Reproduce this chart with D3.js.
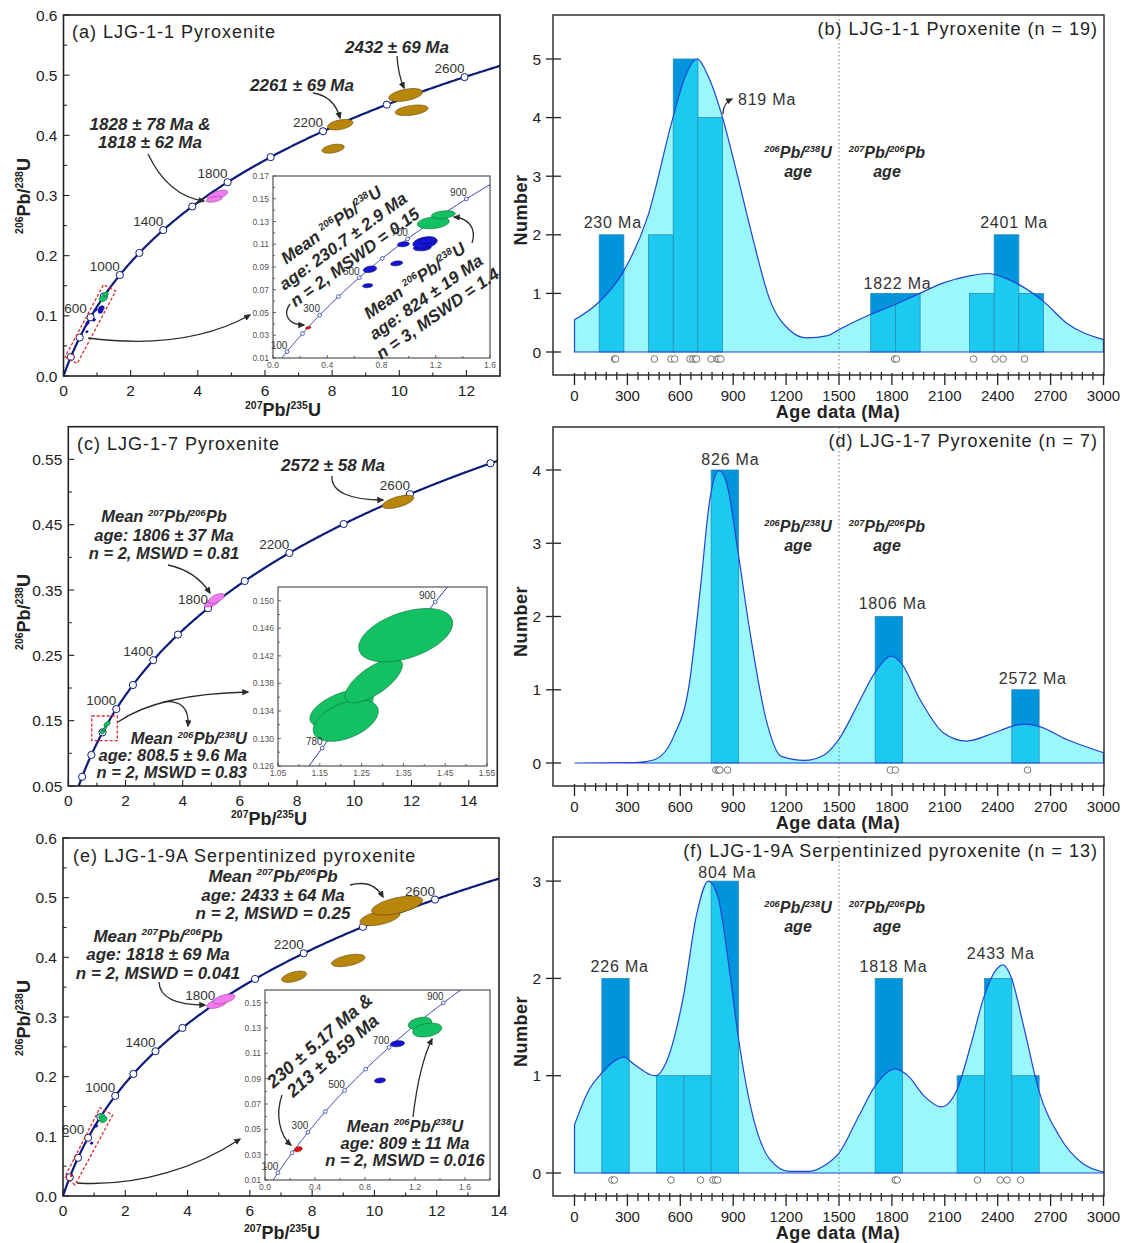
<!DOCTYPE html>
<html>
<head>
<meta charset="utf-8">
<script src="https://cdn.jsdelivr.net/npm/d3@7"></script>
<style>
  html, body { margin: 0; padding: 0; background: #fff; }
  svg text { font-family: "Liberation Sans", Arial, Helvetica, sans-serif; }
</style>
</head>
<body>
<svg id="fig" width="1123" height="1243"></svg>
<script>
// ---------------- Concordia (decay constants, 1/yr) ----------------
const LAMBDA_238 = 1.55125e-10;
const LAMBDA_235 = 9.8485e-10;
const concordiaMarkerAges = [200, 400, 600, 800, 1000, 1200, 1400, 1600, 1800, 2000, 2200, 2400, 2600, 2800];
const concordiaLabelAges = [600, 1000, 1400, 1800, 2200, 2600];
const concordiaLabelAgesC = [1000, 1400, 1800, 2200, 2600];
const insetMarkerAges = [100, 200, 300, 400, 500, 600, 700, 800, 900];
const insetLabelAges = [100, 300, 500, 700, 900];
const insetMarkerAgesC = [780, 900];

// ---------------- Axis ticks ----------------
const aXTicks = [0, 2, 4, 6, 8, 10, 12];
const aYTicks = [0, 0.1, 0.2, 0.3, 0.4, 0.5, 0.6];
const cXTicks = [0, 2, 4, 6, 8, 10, 12, 14];
const cYTicks = [0.05, 0.15, 0.25, 0.35, 0.45, 0.55];
const eXTicks = [0, 2, 4, 6, 8, 10, 12, 14];
const eYTicks = [0, 0.1, 0.2, 0.3, 0.4, 0.5, 0.6];
const insetAXTicks = [0, 0.4, 0.8, 1.2, 1.6];
const insetAYTicks = [0.01, 0.03, 0.05, 0.07, 0.09, 0.11, 0.13, 0.15, 0.17];
const insetCXTicks = [1.05, 1.15, 1.25, 1.35, 1.45, 1.55];
const insetCYTicks = [0.126, 0.130, 0.134, 0.138, 0.142, 0.146, 0.150];
const insetEXTicks = [0, 0.4, 0.8, 1.2, 1.6];
const insetEYTicks = [0.01, 0.03, 0.05, 0.07, 0.09, 0.11, 0.13, 0.15];
const histXTicks = [0, 300, 600, 900, 1200, 1500, 1800, 2100, 2400, 2700, 3000];

// ---------------- Error ellipses: [207Pb/235U, 206Pb/238U, sx, sy, rho] ----------------
const aBrown = [[10.19, 0.467, 0.506, 0.0108, 0.45], [10.37, 0.4416, 0.49, 0.0088, 0.4],
                [8.24, 0.4177, 0.38, 0.0088, 0.4], [8.03, 0.3778, 0.333, 0.0075, 0.4]];
const aPink = [[4.59, 0.3008, 0.30, 0.0083, 0.6], [4.49, 0.2937, 0.24, 0.005, 0.5]];
const aRed = [[0.26, 0.0366, 0.02, 0.0011, 0.3]];
const aBlue = [[0.715, 0.088, 0.049, 0.0029, 0.3], [0.698, 0.0736, 0.037, 0.0018, 0.2],
               [0.912, 0.0932, 0.044, 0.0022, 0.3], [0.961, 0.110, 0.044, 0.0022, 0.2],
               [1.10, 0.107, 0.066, 0.0028, 0.2], [1.121, 0.1115, 0.09, 0.005, 0.3],
               [1.14, 0.1135, 0.06, 0.003, 0.3]];
const aGreen = [[1.182, 0.1289, 0.118, 0.0053, 0.25], [1.256, 0.136, 0.088, 0.0035, 0.3]];

const cBrown = [[11.53, 0.485, 0.55, 0.0102, 0.6]];
const cPink = [[5.0, 0.330, 0.245, 0.006, 0.5], [5.18, 0.337, 0.28, 0.0076, 0.6]];
const cGreen = [[1.202, 0.1344, 0.0758, 0.00271, 0.55], [1.212, 0.1326, 0.0778, 0.00302, 0.45],
                [1.279, 0.1384, 0.0686, 0.00322, 0.7], [1.3555, 0.1450, 0.1124, 0.00388, 0.45]];

const eBrown = [[10.18, 0.4662, 0.642, 0.0131, 0.5], [10.73, 0.4868, 0.819, 0.0159, 0.55],
                [9.16, 0.3947, 0.536, 0.0104, 0.5], [7.42, 0.3675, 0.40, 0.0095, 0.5]];
const ePink = [[4.93, 0.3218, 0.32, 0.0075, 0.5], [5.17, 0.330, 0.353, 0.0084, 0.55]];
const eRed = [[0.266, 0.0343, 0.032, 0.002, 0.3]];
const eBlue = [[1.06, 0.1176, 0.056, 0.0024, 0.2], [0.92, 0.0886, 0.044, 0.002, 0.2]];
const eGreen = [[1.24, 0.1336, 0.094, 0.0049, 0.3], [1.298, 0.1284, 0.116, 0.0055, 0.3]];

// ---------------- Histogram / KDE data (ages in Ma) ----------------
const bAges = [227, 233, 453, 547, 568, 655, 671, 685, 693, 774, 809, 818, 830, 1815, 1826, 2263, 2385, 2431, 2552];
const bKde = [[0, 0.55], [135, 0.84], [273, 1.35], [415, 2.31], [555, 3.96], [628, 4.7], [695, 5.0], [759, 4.7],
              [835, 4.05], [912, 3.16], [999, 2.09], [1108, 0.89], [1218, 0.38], [1316, 0.24], [1437, 0.28],
              [1498, 0.38], [1677, 0.64], [1819, 0.81], [1957, 1.0], [2093, 1.18], [2241, 1.30], [2344, 1.34],
              [2443, 1.26], [2521, 1.15], [2661, 0.86], [2792, 0.49], [3000, 0.21]];
const dAges = [802, 815, 824, 868, 1791, 1819, 2569];
const dKde = [[0, 0], [300, 0.004], [365, 0.01], [453, 0.045], [562, 0.36], [649, 1.05], [715, 2.41], [767, 3.59],
              [820, 3.99], [868, 3.77], [923, 2.95], [999, 1.73], [1087, 0.59], [1174, 0.09], [1305, 0.036],
              [1415, 0.11], [1498, 0.32], [1611, 0.82], [1703, 1.23], [1797, 1.46], [1854, 1.36], [1961, 0.86],
              [2093, 0.41], [2224, 0.30], [2377, 0.41], [2480, 0.50], [2552, 0.53], [2633, 0.50], [2792, 0.32],
              [3000, 0.14]];
const fAges = [212, 226, 547, 715, 785, 800, 812, 1819, 1830, 2285, 2414, 2453, 2530];
const fKde = [[0, 0.495], [81, 0.85], [151, 1.02], [234, 1.16], [278, 1.19], [343, 1.11], [431, 1.01], [463, 1.0],
              [518, 1.13], [617, 1.81], [693, 2.66], [759, 3.0], [813, 2.84], [879, 2.08], [923, 1.47], [999, 0.68],
              [1108, 0.14], [1218, 0.017], [1327, 0.017], [1437, 0.10], [1498, 0.2], [1611, 0.58], [1703, 0.89],
              [1819, 1.07], [1896, 0.99], [1983, 0.79], [2081, 0.68], [2168, 0.85], [2245, 1.30], [2322, 1.81],
              [2387, 2.08], [2431, 2.14], [2475, 2.02], [2552, 1.47], [2633, 0.85], [2749, 0.38], [2880, 0.10],
              [3000, 0.01]];

// ---------------- helpers ----------------
const svg = d3.select('#fig');
const defs = svg.append('defs');
defs.append('marker').attr('id', 'arr').attr('viewBox', '0 0 10 10').attr('refX', 8).attr('refY', 5)
  .attr('markerWidth', 5.5).attr('markerHeight', 5.5).attr('orient', 'auto')
  .append('path').attr('d', 'M0,0.5 L10,5 L0,9.5 Z').attr('fill', '#2b2b2b');

const COLORS = {
  brown: { fill: '#b8860b', stroke: '#5c4306' },
  pink:  { fill: '#f07cf0', stroke: '#9a3a9a' },
  green: { fill: '#13c163', stroke: '#0b6b35' },
  blue:  { fill: '#1414d2', stroke: '#06066e' },
  red:   { fill: '#e01414', stroke: '#7a0000' }
};

// text with "^123" superscripts
function rich(t, str, size) {
  const parts = str.split(/(\^\d+)/).filter(s => s.length);
  const sup = size * 0.58, rise = size * 0.4;
  let raised = false;
  parts.forEach(s => {
    if (s[0] === '^') {
      t.append('tspan').attr('font-size', sup).attr('dy', raised ? 0 : -rise).text(s.slice(1));
      raised = true;
    } else {
      t.append('tspan').attr('dy', raised ? rise : 0).text(s);
      raised = false;
    }
  });
}
function txt(g, x, y, str, o = {}) {
  const size = o.size || 15;
  const t = g.append('text').attr('x', x).attr('y', y).attr('font-size', size)
    .attr('text-anchor', o.anchor || 'start').attr('fill', o.fill || '#222');
  if (o.bold) t.attr('font-weight', 'bold');
  if (o.italic) t.attr('font-style', 'italic');
  if (o.ls) t.attr('letter-spacing', o.ls);
  if (o.rotate) t.attr('transform', `rotate(${o.rotate},${x},${y})`);
  rich(t, str, size);
  return t;
}
// multi-line block centred on (cx, cy), optionally rotated
function block(g, cx, cy, lines, o) {
  const gg = g.append('g').attr('transform', `translate(${cx},${cy}) rotate(${o.rotate || 0})`);
  const n = lines.length;
  lines.forEach((s, i) => txt(gg, 0, (i - (n - 1) / 2) * o.lh + o.size * 0.35, s,
    { size: o.size, bold: true, italic: true, anchor: o.anchor || 'middle', ls: o.ls, fill: '#2a2a2a' }));
  return gg;
}
function arrow(g, d) {
  g.append('path').attr('d', d).attr('fill', 'none').attr('stroke', '#2b2b2b')
    .attr('stroke-width', 1.3).attr('marker-end', 'url(#arr)');
}
function dashedBox(g, pts) {
  g.append('path').attr('d', d3.line()(pts) + 'Z').attr('fill', 'none')
    .attr('stroke', '#e02a2a').attr('stroke-width', 1.3).attr('stroke-dasharray', '3,2');
}

const concordia = t => [Math.expm1(LAMBDA_235 * t * 1e6), Math.expm1(LAMBDA_238 * t * 1e6)];
const curveAges = d3.range(0, 3301, 4);

function ellipsePts(e) {
  const [cx, cy, sx, sy, r] = e, k = Math.sqrt(1 - r * r);
  return d3.range(72).map(i => {
    const a = i / 72 * 2 * Math.PI;
    return [cx + sx * Math.cos(a), cy + sy * (r * Math.cos(a) + k * Math.sin(a))];
  });
}

let clipN = 0;
function concordiaPanel(p) {
  const f = p.frame;
  const x = d3.scaleLinear(p.xDomain, [f.l, f.r]);
  const y = d3.scaleLinear(p.yDomain, [f.b, f.t]);
  const g = svg.append('g');
  if (p.bg) g.append('rect').attr('x', f.l).attr('y', f.t).attr('width', f.r - f.l).attr('height', f.b - f.t).attr('fill', '#fff');
  const id = 'clip' + (clipN++);
  defs.append('clipPath').attr('id', id).append('rect')
    .attr('x', f.l).attr('y', f.t).attr('width', f.r - f.l).attr('height', f.b - f.t);
  const body = g.append('g').attr('clip-path', `url(#${id})`);
  const line = d3.line().x(d => x(d[0])).y(d => y(d[1]));
  body.append('path').attr('d', line(curveAges.map(concordia)))
    .attr('fill', 'none').attr('stroke', p.lineColor).attr('stroke-width', p.lineW);
  p.markerAges.forEach(t => {
    const c = concordia(t);
    body.append('circle').attr('cx', x(c[0])).attr('cy', y(c[1])).attr('r', p.markerR)
      .attr('fill', '#fff').attr('stroke', p.lineColor).attr('stroke-width', p.markerW);
  });
  const eLine = d3.line().x(d => x(d[0])).y(d => y(d[1])).curve(d3.curveLinearClosed);
  p.ellipses.forEach(([rows, col]) => rows.forEach(e => {
    body.append('path').attr('d', eLine(ellipsePts(e)))
      .attr('fill', COLORS[col].fill).attr('stroke', COLORS[col].stroke).attr('stroke-width', 0.6);
  }));
  p.labelAges.forEach(t => {
    const c = concordia(t);
    txt(g, x(c[0]) + p.labelDx, y(c[1]) + p.labelDy, String(t), { size: p.labelSize, anchor: 'middle', fill: '#333' });
  });
  // axes: ticks point inward
  const a = p.axis;
  const seg = (x1, y1, x2, y2) => g.append('line').attr('x1', x1).attr('y1', y1).attr('x2', x2).attr('y2', y2)
    .attr('stroke', a.color).attr('stroke-width', a.tickW);
  a.xMinor.forEach(v => seg(x(v), f.b, x(v), f.b - a.minor));
  a.yMinor.forEach(v => seg(f.l, y(v), f.l + a.minor, y(v)));
  a.xTicks.forEach(v => {
    seg(x(v), f.b, x(v), f.b - a.major);
    txt(g, x(v), f.b + a.xDy, a.xFmt(v), { size: a.size, anchor: 'middle', fill: a.textColor });
  });
  a.yTicks.forEach(v => {
    seg(f.l, y(v), f.l + a.major, y(v));
    txt(g, f.l - a.yDx, y(v) + a.size * 0.36, a.yFmt(v), { size: a.size, anchor: 'end', fill: a.textColor });
  });
  g.append('rect').attr('x', f.l).attr('y', f.t).attr('width', f.r - f.l).attr('height', f.b - f.t)
    .attr('fill', 'none').attr('stroke', a.color).attr('stroke-width', a.frameW);
  return { g, x, y };
}

const mainStyle = { lineColor: '#0d1b7a', lineW: 2.2, markerR: 3.6, markerW: 1, labelSize: 13.5, labelDx: -15, labelDy: -4 };
const insetStyle = { lineColor: '#2b3aa8', lineW: 1, markerR: 1.9, markerW: 0.8, labelSize: 10, labelDx: -8, labelDy: -3, bg: true };
const mainAxis = (xt, yt, xMinor, yMinor, yFmt) => ({
  xTicks: xt, yTicks: yt, xMinor, yMinor, xFmt: d3.format('d'), yFmt,
  size: 15.5, textColor: '#222', color: '#222', xDy: 20, yDx: 6, major: 6, minor: 3.5, tickW: 1.1, frameW: 1.6
});
const insetAxis = (xt, yt, xMinor, yMinor, xFmt, yFmt) => ({
  xTicks: xt, yTicks: yt, xMinor, yMinor, xFmt, yFmt,
  size: 8.5, textColor: '#555', color: '#444', xDy: 10, yDx: 4, major: 3, minor: 2, tickW: 0.8, frameW: 1.1
});
const axisTitles = (xx, xy, yx, yy) => {
  txt(svg, xx, xy, '^207Pb/^235U', { size: 18, bold: true, anchor: 'middle' });
  txt(svg, yx, yy, '^206Pb/^238U', { size: 18, bold: true, anchor: 'middle', rotate: -90 });
};

// ================= (a) =================
concordiaPanel({
  ...mainStyle, frame: { l: 63.5, r: 500, t: 15, b: 376 }, xDomain: [0, 13], yDomain: [0, 0.6],
  markerAges: concordiaMarkerAges, labelAges: concordiaLabelAges,
  ellipses: [[aBrown, 'brown'], [aPink, 'pink'], [aRed, 'red'], [aBlue, 'blue'], [aGreen, 'green']],
  axis: mainAxis(aXTicks, aYTicks, [1, 3, 5, 7, 9, 11], [0.05, 0.15, 0.25, 0.35, 0.45, 0.55], d3.format('.1f'))
});
const annA = svg.append('g');
txt(annA, 72, 38, '(a) LJG-1-1 Pyroxenite', { size: 18, ls: 1 });
txt(annA, 397, 52.5, '2432 ± 69 Ma', { size: 17, bold: true, italic: true, anchor: 'middle', fill: '#2a2a2a' });
txt(annA, 302, 91, '2261 ± 69 Ma', { size: 17, bold: true, italic: true, anchor: 'middle', fill: '#2a2a2a' });
block(annA, 150, 133.3, ['1828 ± 78 Ma &', '1818 ± 62 Ma'], { size: 17, lh: 18.5 });
arrow(annA, 'M397,56 Q398,74 404,88');
arrow(annA, 'M313,93 Q334,96 340,118');
arrow(annA, 'M148,154 Q168,196 204,201');
dashedBox(annA, [[65.1, 356.9], [77.3, 363.4], [115.7, 291.1], [103.5, 284.7]]);
arrow(annA, 'M88,338 C150,346 205,340 250,315');
concordiaPanel({
  ...insetStyle, frame: { l: 273, r: 490, t: 176, b: 358 }, xDomain: [0, 1.6], yDomain: [0.01, 0.17],
  markerAges: insetMarkerAges, labelAges: insetLabelAges,
  ellipses: [[aRed, 'red'], [aBlue, 'blue'], [aGreen, 'green']],
  axis: insetAxis(insetAXTicks, insetAYTicks, [0.2, 0.6, 1.0, 1.4], [0.02, 0.04, 0.06, 0.08, 0.10, 0.12, 0.14, 0.16],
    d3.format('.1f'), d3.format('.2f'))
});
const insetNotesA = svg.append('g');
block(insetNotesA, 343, 241, ['Mean ^206Pb/^238U', 'age: 230.7 ± 2.9 Ma', 'n = 2, MSWD = 0.15'], { size: 17, lh: 20, rotate: -36 });
block(insetNotesA, 426, 297, ['Mean ^206Pb/^238U', 'age: 824 ± 19 Ma', 'n = 3, MSWD = 1.4'], { size: 17, lh: 20, rotate: -35 });
arrow(insetNotesA, 'M290,304 C282,315 289,325 304,325');
arrow(insetNotesA, 'M472,243 C477,228 468,218 454,217');
axisTitles(283, 416, 30, 196);

// ================= (b), (d), (f) histograms =================
function histPanel(p) {
  const f = p.frame;
  const x = d3.scaleLinear([0, 3000], [574.5, 1103.5]);
  const y = d3.scaleLinear([0, 1], [p.zeroY, p.zeroY - p.unit]);
  const g = svg.append('g');
  const bins = d3.bin().domain([0, 3000]).thresholds(d3.range(0, 3000, p.binWidth))(p.ages).filter(b => b.length);
  const bars = (sel, fill) => sel.selectAll('rect').data(bins).join('rect')
    .attr('x', d => x(d.x0)).attr('y', d => y(d.length)).attr('width', d => x(d.x1) - x(d.x0))
    .attr('height', d => y(0) - y(d.length)).attr('fill', fill).attr('stroke', '#2b8cb4').attr('stroke-width', 0.8);
  bars(g.append('g'), '#0094dc');
  const areaD = d3.area().x(d => x(d[0])).y0(y(0)).y1(d => y(d[1])).curve(d3.curveMonotoneX)(p.kde);
  g.append('path').attr('d', areaD).attr('fill', '#9af7fc');
  const cid = 'hclip' + (clipN++);
  defs.append('clipPath').attr('id', cid).append('path').attr('d', areaD);
  bars(g.append('g').attr('clip-path', `url(#${cid})`), '#1cc9ef');
  g.append('path').attr('d', areaD).attr('fill', 'none').attr('stroke', '#2343d3').attr('stroke-width', 1.2);
  g.append('line').attr('x1', x(1500)).attr('x2', x(1500)).attr('y1', f.t).attr('y2', f.b)
    .attr('stroke', '#777').attr('stroke-width', 1).attr('stroke-dasharray', '1.5,2.5');
  g.append('g').selectAll('circle').data(p.ages).join('circle')
    .attr('cx', d => x(d)).attr('cy', y(0) + 7).attr('r', 3.3)
    .attr('fill', '#fff').attr('stroke', '#555').attr('stroke-width', 0.8);
  // axes
  const seg = (x1, y1, x2, y2) => g.append('line').attr('x1', x1).attr('y1', y1).attr('x2', x2).attr('y2', y2)
    .attr('stroke', '#222').attr('stroke-width', 1.3);
  p.yTicks.forEach(v => {
    seg(f.l - 7, y(v), f.l + 8, y(v));
    txt(g, f.l - 12, y(v) + 5.5, String(v), { size: 15.5, anchor: 'end' });
  });
  d3.range(60, 3000, 60).filter(v => v % 300).forEach(v => seg(x(v), f.b - 3, x(v), f.b + 5));
  histXTicks.forEach(v => {
    seg(x(v), f.b - 2, x(v), f.b + 10);
    txt(g, x(v), f.b + 26, String(v), { size: 15, anchor: 'middle' });
  });
  g.append('rect').attr('x', f.l).attr('y', f.t).attr('width', f.r - f.l).attr('height', f.b - f.t)
    .attr('fill', 'none').attr('stroke', '#333').attr('stroke-width', 1.5);
  txt(g, 838, f.b + 43, 'Age data (Ma)', { size: 18, bold: true, anchor: 'middle', ls: 0.5 });
  txt(g, 527, (f.t + f.b) / 2 + 15, 'Number', { size: 18, bold: true, anchor: 'middle', rotate: -90, ls: 0.5 });
  txt(g, 1098, p.titleY, p.title, { size: 18, anchor: 'end', ls: 1 });
  p.peaks.forEach(([ma, n, s, anchor]) => txt(g, x(ma), y(n), s, { size: 16, anchor: anchor || 'middle', ls: 0.8, fill: '#333' }));
  const [y1, y2] = p.methodY;
  txt(g, 798, y1, '^206Pb/^238U', { size: 16, bold: true, italic: true, anchor: 'middle', fill: '#2a2a2a' });
  txt(g, 798, y2, 'age', { size: 16, bold: true, italic: true, anchor: 'middle', fill: '#2a2a2a' });
  txt(g, 887, y1, '^207Pb/^206Pb', { size: 16, bold: true, italic: true, anchor: 'middle', fill: '#2a2a2a' });
  txt(g, 887, y2, 'age', { size: 16, bold: true, italic: true, anchor: 'middle', fill: '#2a2a2a' });
  return g;
}

const gb = histPanel({
  frame: { l: 553, r: 1104, t: 15, b: 375 }, zeroY: 352, unit: 58.6, binWidth: 140,
  ages: bAges, kde: bKde, yTicks: [0, 1, 2, 3, 4, 5],
  title: '(b) LJG-1-1 Pyroxenite (n = 19)', titleY: 35,
  peaks: [[217, 2.12, '230 Ma'], [927, 4.21, '819 Ma', 'start'], [1832, 1.075, '1822 Ma'], [2493, 2.12, '2401 Ma']],
  methodY: [158, 177]
});
arrow(gb, 'M723,114 Q723,103 732,99');

histPanel({
  frame: { l: 553, r: 1104, t: 427, b: 786 }, zeroY: 763, unit: 73.25, binWidth: 155,
  ages: dAges, kde: dKde, yTicks: [0, 1, 2, 3, 4],
  title: '(d) LJG-1-7 Pyroxenite (n = 7)', titleY: 447,
  peaks: [[884, 4.07, '826 Ma'], [1804, 2.10, '1806 Ma'], [2599, 1.08, '2572 Ma']],
  methodY: [532, 551]
});

histPanel({
  frame: { l: 553, r: 1104, t: 837, b: 1196 }, zeroY: 1173, unit: 97.3, binWidth: 155,
  ages: fAges, kde: fKde, yTicks: [0, 1, 2, 3],
  title: '(f) LJG-1-9A Serpentinized pyroxenite (n = 13)', titleY: 857,
  peaks: [[867, 3.03, '804 Ma'], [256, 2.07, '226 Ma'], [1809, 2.07, '1818 Ma'], [2417, 2.2, '2433 Ma']],
  methodY: [913, 932]
});

// ================= (c) =================
concordiaPanel({
  ...mainStyle, frame: { l: 68.3, r: 497.3, t: 426.7, b: 786 }, xDomain: [0, 15], yDomain: [0.05, 0.6],
  markerAges: concordiaMarkerAges, labelAges: concordiaLabelAgesC,
  ellipses: [[cBrown, 'brown'], [cPink, 'pink'], [cGreen, 'green']],
  axis: mainAxis(cXTicks, cYTicks, [1, 3, 5, 7, 9, 11, 13], [0.1, 0.2, 0.3, 0.4, 0.5], d3.format('.2f'))
});
const annC = svg.append('g');
txt(annC, 77, 450, '(c) LJG-1-7 Pyroxenite', { size: 18, ls: 1 });
txt(annC, 333, 471, '2572 ± 58 Ma', { size: 17, bold: true, italic: true, anchor: 'middle', fill: '#2a2a2a' });
arrow(annC, 'M332,476 C331,492 350,500 383,500');
block(annC, 164, 535, ['Mean ^207Pb/^206Pb', 'age: 1806 ± 37 Ma', 'n = 2, MSWD = 0.81'], { size: 16.5, lh: 18.3 });
arrow(annC, 'M168,565 Q196,571 210,593');
dashedBox(annC, [[91.7, 716], [117.3, 716], [117.3, 740.7], [91.7, 740.7]]);
arrow(annC, 'M118,722 Q158,694 248,692');
arrow(annC, 'M163,702 Q190,699 188,726');
block(annC, 247, 755.4, ['Mean ^206Pb/^238U', 'age: 808.5 ± 9.6 Ma', 'n = 2, MSWD = 0.83'], { size: 16.5, lh: 17, anchor: 'end' });
concordiaPanel({
  ...insetStyle, frame: { l: 278, r: 487, t: 587, b: 766 }, xDomain: [1.05, 1.55], yDomain: [0.126, 0.152],
  markerAges: insetMarkerAgesC, labelAges: insetMarkerAgesC,
  ellipses: [[cGreen, 'green']],
  axis: insetAxis(insetCXTicks, insetCYTicks, [1.1, 1.2, 1.3, 1.4, 1.5],
    [0.128, 0.132, 0.136, 0.140, 0.144, 0.148], d3.format('.2f'), d3.format('.3f'))
});
axisTitles(269, 825, 30, 612);

// ================= (e) =================
concordiaPanel({
  ...mainStyle, frame: { l: 63, r: 499, t: 838, b: 1196 }, xDomain: [0, 14], yDomain: [0, 0.6],
  markerAges: concordiaMarkerAges, labelAges: concordiaLabelAges,
  ellipses: [[eBrown, 'brown'], [ePink, 'pink'], [eRed, 'red'], [eBlue, 'blue'], [eGreen, 'green']],
  axis: mainAxis(eXTicks, eYTicks, [1, 3, 5, 7, 9, 11, 13], [0.05, 0.15, 0.25, 0.35, 0.45, 0.55], d3.format('.1f'))
});
const annE = svg.append('g');
txt(annE, 73, 862, '(e) LJG-1-9A Serpentinized pyroxenite', { size: 18, ls: 1 });
block(annE, 273, 894.8, ['Mean ^207Pb/^206Pb', 'age: 2433 ± 64 Ma', 'n = 2, MSWD = 0.25'], { size: 17, lh: 18.7 });
arrow(annE, 'M350,885 Q373,879 383,897');
block(annE, 158, 954.3, ['Mean ^207Pb/^206Pb', 'age: 1818 ± 69 Ma', 'n = 2, MSWD = 0.041'], { size: 17, lh: 18.5 });
arrow(annE, 'M159,982 Q160,1005 205,1005');
dashedBox(annE, [[65, 1176.7], [75, 1185], [112.7, 1115], [100, 1107.7]]);
arrow(annE, 'M77,1183 C140,1187 200,1166 240,1139');
concordiaPanel({
  ...insetStyle, frame: { l: 265, r: 490, t: 990, b: 1180 }, xDomain: [0, 1.8], yDomain: [0.01, 0.16],
  markerAges: insetMarkerAges, labelAges: insetLabelAges,
  ellipses: [[eRed, 'red'], [eBlue, 'blue'], [eGreen, 'green']],
  axis: insetAxis(insetEXTicks, insetEYTicks, [0.2, 0.6, 1.0, 1.4, 1.8],
    [0.02, 0.04, 0.06, 0.08, 0.10, 0.12, 0.14], d3.format('.1f'), d3.format('.2f'))
});
const insetNotesE = svg.append('g');
block(insetNotesE, 326, 1048, ['230 ± 5.17 Ma &', '213 ± 8.59 Ma'], { size: 18, lh: 20, rotate: -41 });
arrow(insetNotesE, 'M282,1095 C275,1115 280,1136 291,1145');
block(insetNotesE, 405, 1143, ['Mean ^206Pb/^238U', 'age: 809 ± 11 Ma', 'n = 2, MSWD = 0.016'], { size: 16.5, lh: 17 });
arrow(insetNotesE, 'M413,1117 Q419,1066 432,1039');
axisTitles(282, 1239, 30, 1018);
</script>
</body>
</html>
